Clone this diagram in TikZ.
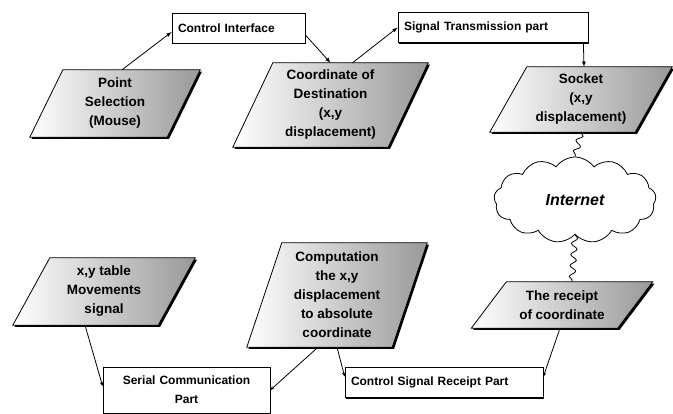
\documentclass[tikz,border=0pt]{standalone}
\usepackage{fontspec}
\setmainfont{Liberation Sans}
\usetikzlibrary{shapes.symbols,shadows,backgrounds,decorations.pathmorphing,arrows.meta}

\begin{document}
\begin{tikzpicture}
[x=1pt,y=-1pt,
font=\bfseries\fontsize{12}{19}\selectfont,
box/.style={draw,thick,fill=white,rectangle,minimum height=30pt,inner xsep=6pt,align=left,
  drop shadow={shadow xshift=1.3pt,shadow yshift=-1.3pt,fill=black,opacity=1}},
data/.style={rectangle,align=center,inner sep=2pt,font=\bfseries\fontsize{13.5}{19}\selectfont},
datafill/.style={draw,thick,left color=white,middle color=white,right color=black!40,
  drop shadow={shadow xshift=1.8pt,shadow yshift=-1.8pt,fill=black,opacity=1}},
link/.style={thick,-latex},
tail/.style={thick,-{Stealth[length=4pt,width=3.5pt]}},
wire/.style={thick,decorate,decoration={snake,segment length=11pt,amplitude=3pt}}]
\useasboundingbox (0,0) rectangle (673,414);

% upper row
\node[data,minimum width=137pt,minimum height=67pt] (pt) at (115,103.5)
  {Point\\Selection\\(Mouse)};
\node[box,text width=121pt] (ci) at (238.5,28) {Control Interface};
\node[data,minimum width=155pt,minimum height=84pt] (cd) at (330.5,105)
  {Coordinate of\\Destination\\(x,y\\displacement)};
\node[box,text width=178pt] (st) at (493,27.5) {Signal Transmission part};
\node[data,minimum width=145pt,minimum height=65pt] (sk) at (581,99.5)
  {Socket\\(x,y\\displacement)};

% network
\node[cloud,cloud puffs=13,cloud puff arc=110,aspect=1.9,draw,thick,fill=white,
  minimum width=162pt,minimum height=86pt] (net) at (575,200)
  {\itshape\fontsize{16}{16}\selectfont Internet};

% lower row
\node[data,minimum width=146pt,minimum height=46pt] (rc) at (562,305)
  {The receipt\\of coordinate};
\node[box,text width=186pt] (csr) at (444,382.5) {Control Signal Receipt Part};
\node[data,minimum width=145pt,minimum height=104pt] (comp) at (337,295)
  {Computation\\the x,y\\displacement\\to absolute\\coordinate};
\node[box,text width=155pt,align=center,minimum height=46pt] (scp) at (186.5,390)
  {Serial Communication\\Part};
\node[data,minimum width=145pt,minimum height=67pt] (xy) at (104,291.5)
  {x,y table\\Movements\\signal};

% slanted data boxes behind the texts
\begin{scope}[on background layer]
\foreach \n/\o in {pt/16.5,cd/20,sk/18.5,rc/17.5,comp/17.5,xy/18.5}
  \draw[datafill] ([xshift=\o pt]\n.north west) -- ([xshift=\o pt]\n.north east)
    -- ([xshift=-\o pt]\n.south east) -- ([xshift=-\o pt]\n.south west) -- cycle;
\end{scope}

\draw[link] ([xshift=7pt]pt.north) -- ([yshift=-4pt]ci.west);
\draw[link] ([yshift=-7pt]ci.east) -- (cd.north);
\draw[link] ([xshift=22pt]cd.north) -- (st.west);
\draw[link] ([xshift=-5pt]st.south east) -- ([xshift=3pt]sk.north);
\draw[wire] (sk.south) -- (net.north);
\draw[wire] (net.south) -- ([xshift=10pt]rc.north);
\draw[tail] ([xshift=-2pt]rc.south) -- ([yshift=6pt]csr.east);
\draw[tail] (comp.south) -- ([yshift=6pt]csr.west);
\draw[tail] ([xshift=-19pt]comp.south) -- (scp.east);
\draw[tail] ([xshift=-19pt]xy.south) -- ([yshift=4pt]scp.west);
\end{tikzpicture}
\end{document}
